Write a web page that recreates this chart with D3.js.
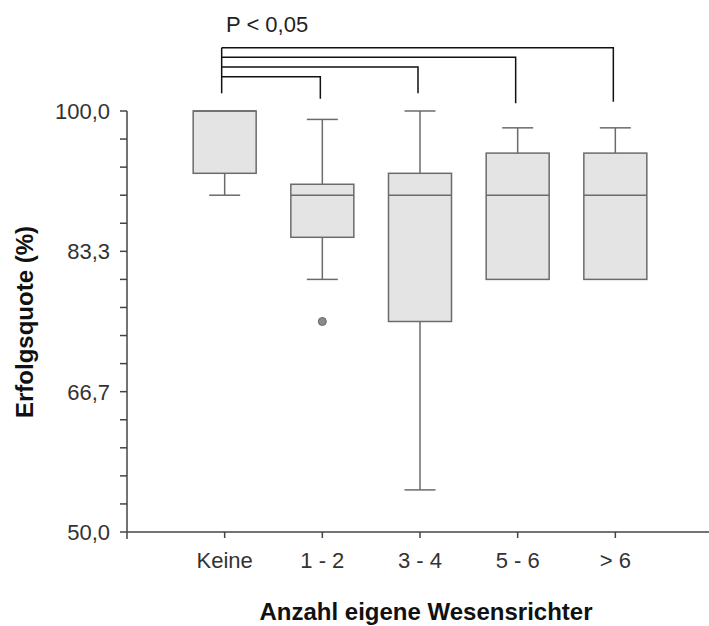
<!DOCTYPE html>
<html><head><meta charset="utf-8">
<script src="https://cdn.jsdelivr.net/npm/d3@7"></script>
<style>body{margin:0;background:#fff}svg{display:block}</style>
</head><body>
<script>
const categories = ["Keine", "1 - 2", "3 - 4", "5 - 6", "> 6"];
const whiskerLow  = [90, 80, 55, 80, 80];
const q1          = [92.6, 85, 75, 80, 80];
const median      = [100, 90, 90, 90, 90];
const q3          = [100, 91.3, 92.6, 95, 95];
const whiskerHigh = [100, 99, 100, 98, 98];
const outliers    = [[], [75], [], [], []];
const yTickValues = [50, 50+50/3, 50+100/3, 100];
const yTickLabels = ["50,0", "66,7", "83,3", "100,0"];
const sigPairs = [["Keine", "1 - 2"], ["Keine", "3 - 4"], ["Keine", "5 - 6"], ["Keine", "> 6"]];
const sigLabel = "P < 0,05";

const W = 709, H = 626;
const svg = d3.select("body").append("svg").attr("width", W).attr("height", H);
const font = "Liberation Sans, Arial, sans-serif";

const x = d3.scalePoint().domain(categories).range([127, 713]).padding(1);
const y = d3.scaleLinear().domain([50, 100]).range([532, 111]);

// Y axis
const minorTicks = d3.range(0, 16).map(i => 50 + i * 50 / 15);
const yAxis = svg.append("g").attr("transform", "translate(127,0)");
yAxis.append("line").attr("x1", 0).attr("x2", 0).attr("y1", y(100)).attr("y2", y(50) + 7)
  .attr("stroke", "#444").attr("stroke-width", 1.5);
yAxis.selectAll("line.mt").data(minorTicks).join("line").attr("class", "mt")
  .attr("x1", -7).attr("x2", 0).attr("y1", d => y(d)).attr("y2", d => y(d))
  .attr("stroke", "#444").attr("stroke-width", 1.5);
yAxis.selectAll("text").data(yTickValues).join("text")
  .attr("x", -17).attr("y", d => y(d)).attr("dy", "0.36em")
  .attr("text-anchor", "end").attr("font-family", font).attr("font-size", 22)
  .attr("fill", "#333").text((d, i) => yTickLabels[i]);

// X axis
const xAxis = svg.append("g").attr("transform", `translate(0,${y(50)})`);
xAxis.append("line").attr("x1", 127).attr("x2", W).attr("y1", 0).attr("y2", 0)
  .attr("stroke", "#444").attr("stroke-width", 1.5);
xAxis.selectAll("line.t").data(categories).join("line").attr("class", "t")
  .attr("x1", d => x(d)).attr("x2", d => x(d)).attr("y1", 0).attr("y2", 6)
  .attr("stroke", "#444").attr("stroke-width", 1.5);
xAxis.selectAll("text").data(categories).join("text")
  .attr("x", d => x(d)).attr("y", 36)
  .attr("text-anchor", "middle").attr("font-family", font).attr("font-size", 22)
  .attr("fill", "#333").text(d => d);

// Axis titles
svg.append("text").attr("x", 426).attr("y", 620).attr("text-anchor", "middle")
  .attr("font-family", font).attr("font-size", 24).attr("font-weight", "bold")
  .attr("fill", "#111").text("Anzahl eigene Wesensrichter");
svg.append("text").attr("transform", "translate(33,322) rotate(-90)").attr("text-anchor", "middle")
  .attr("font-family", font).attr("font-size", 24).attr("font-weight", "bold")
  .attr("fill", "#111").text("Erfolgsquote (%)");

// Boxes
const boxW = 63, capW = 31;
const stroke = "#6b6b6b";
const g = svg.append("g");
categories.forEach((c, i) => {
  const cx = x(c);
  if (whiskerHigh[i] > q3[i]) {
    g.append("line").attr("x1", cx).attr("x2", cx).attr("y1", y(q3[i])).attr("y2", y(whiskerHigh[i]))
      .attr("stroke", stroke).attr("stroke-width", 1.5);
    g.append("line").attr("x1", cx - capW/2).attr("x2", cx + capW/2).attr("y1", y(whiskerHigh[i])).attr("y2", y(whiskerHigh[i]))
      .attr("stroke", stroke).attr("stroke-width", 1.5);
  }
  if (whiskerLow[i] < q1[i]) {
    g.append("line").attr("x1", cx).attr("x2", cx).attr("y1", y(q1[i])).attr("y2", y(whiskerLow[i]))
      .attr("stroke", stroke).attr("stroke-width", 1.5);
    g.append("line").attr("x1", cx - capW/2).attr("x2", cx + capW/2).attr("y1", y(whiskerLow[i])).attr("y2", y(whiskerLow[i]))
      .attr("stroke", stroke).attr("stroke-width", 1.5);
  }
  g.append("rect").attr("x", cx - boxW/2).attr("width", boxW)
    .attr("y", y(q3[i])).attr("height", y(q1[i]) - y(q3[i]))
    .attr("fill", "#e4e4e4").attr("stroke", stroke).attr("stroke-width", 1.5);
  g.append("line").attr("x1", cx - boxW/2).attr("x2", cx + boxW/2).attr("y1", y(median[i])).attr("y2", y(median[i]))
    .attr("stroke", stroke).attr("stroke-width", 1.5);
  outliers[i].forEach(o => {
    g.append("circle").attr("cx", cx).attr("cy", y(o)).attr("r", 4)
      .attr("fill", "#8a8a8a").attr("stroke", "#666").attr("stroke-width", 1);
  });
});

// Significance brackets
const levels = [76.7, 67, 57.3, 47.7];
const drops = [98.7, 93.3, 103.3, 101.7];
const sig = svg.append("g");
const x0 = x("Keine") - 3;
sig.append("line").attr("x1", x0).attr("x2", x0).attr("y1", levels[3]).attr("y2", 93.3)
  .attr("stroke", "#111").attr("stroke-width", 1.5);
sigPairs.forEach((p, i) => {
  const x2 = x(p[1]) - 2;
  sig.append("path").attr("d", `M${x0},${levels[i]}H${x2}V${drops[i]}`)
    .attr("fill", "none").attr("stroke", "#111").attr("stroke-width", 1.5);
});
sig.append("text").attr("x", 226).attr("y", 32).attr("font-family", font).attr("font-size", 22)
  .attr("fill", "#222").text(sigLabel);
</script>
</body></html>
